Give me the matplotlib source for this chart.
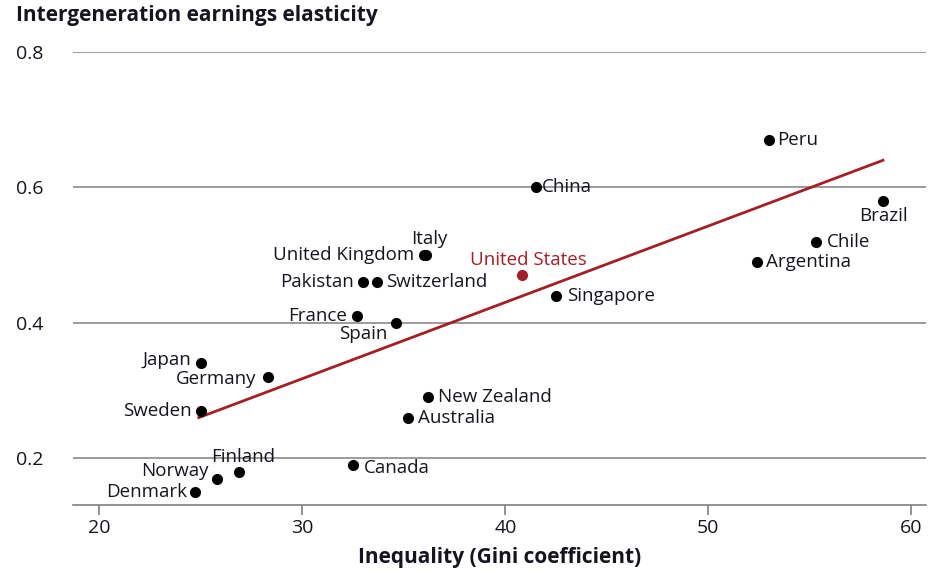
import numpy as np
import matplotlib.pyplot as plt

plt.rcParams['font.family'] = ['Open Sans', 'DejaVu Sans']

# data
countries = ["Peru", "China", "Brazil", "Chile", "Argentina", "United States",
             "Singapore", "Italy", "United Kingdom", "Pakistan", "Switzerland",
             "France", "Spain", "Japan", "Germany", "Sweden", "New Zealand",
             "Australia", "Finland", "Norway", "Denmark", "Canada"]
gini = [53.0, 41.5, 58.6, 55.3, 52.4, 40.8,
        42.5, 36.1, 36.0, 33.0, 33.7,
        32.7, 34.6, 25.0, 28.3, 25.0, 36.2,
        35.2, 26.9, 25.8, 24.7, 32.5]
elasticity = [0.67, 0.60, 0.58, 0.52, 0.49, 0.47,
              0.44, 0.50, 0.50, 0.46, 0.46,
              0.41, 0.40, 0.34, 0.32, 0.27, 0.29,
              0.26, 0.18, 0.17, 0.15, 0.19]

# fitted line end points
trend_x = [24.9, 58.6]
trend_y = [0.26, 0.64]

# label placement: (dx, dy) in pixels, horizontal alignment
label_pos = {
    "Peru": (8, 0, "left"), "China": (6, 0, "left"), "Brazil": (0, -15, "center"),
    "Chile": (11, 0, "left"), "Argentina": (9, 0, "left"),
    "United States": (7, 15, "center"), "Singapore": (11, 0, "left"),
    "Italy": (3, 16, "center"), "United Kingdom": (-10, 0, "right"),
    "Pakistan": (-9, 0, "right"), "Switzerland": (9, 0, "left"),
    "France": (-10, 0, "right"), "Spain": (-8, -11, "right"),
    "Japan": (-10, 3, "right"), "Germany": (-11, -2, "right"),
    "Sweden": (-9, 0, "right"), "New Zealand": (10, 0, "left"),
    "Australia": (10, 0, "left"), "Finland": (4, 15, "center"),
    "Norway": (-8, 8, "right"), "Denmark": (-8, 0, "right"),
    "Canada": (11, -3, "left"),
}

red = "#a31f24"
ink = "#15151f"

fig = plt.figure(figsize=(9.34, 5.71), dpi=100)
ax = fig.add_axes([0.078, 0.1156, 0.913, 0.7934])

ax.plot(trend_x, trend_y, color=red, lw=2, zorder=2)

for name, x, y in zip(countries, gini, elasticity):
    c = red if name == "United States" else "black"
    ax.plot(x, y, 'o', color=c, ms=7, zorder=3)
    dx, dy, ha = label_pos[name]
    ax.annotate(name, (x, y), xytext=(dx, dy), textcoords="offset pixels",
                ha=ha, va="center", fontsize=13.5,
                color=red if name == "United States" else ink, zorder=4)

ax.set_xlim(18.7, 60.7)
ax.set_ylim(0.131, 0.8)
ax.set_xticks([20, 30, 40, 50, 60])
ax.set_yticks([0.2, 0.4, 0.6, 0.8])
ax.set_yticklabels(["0.2", "0.4", "0.6", "0.8"])

for s in ["top", "left", "right"]:
    ax.spines[s].set_visible(False)
ax.spines["bottom"].set_color("#808080")
ax.spines["bottom"].set_linewidth(1.2)
ax.yaxis.grid(True, color="#808080", lw=1.1)
ax.set_axisbelow(True)

ax.tick_params(axis="x", length=7, width=1.2, color="#808080",
               labelsize=14, labelcolor=ink, pad=3)
ax.tick_params(axis="y", length=0, labelsize=14, labelcolor=ink, pad=41)
for lab in ax.get_yticklabels():
    lab.set_horizontalalignment("left")

fig.text(16 / 934, 1 - 15 / 571, "Intergeneration earnings elasticity",
         fontsize=15, fontweight="bold", color=ink, va="center", ha="left")
ax.set_xlabel("Inequality (Gini coefficient)", fontsize=15, fontweight="bold",
              color=ink, labelpad=7)

fig.savefig("out.png", dpi=100)
